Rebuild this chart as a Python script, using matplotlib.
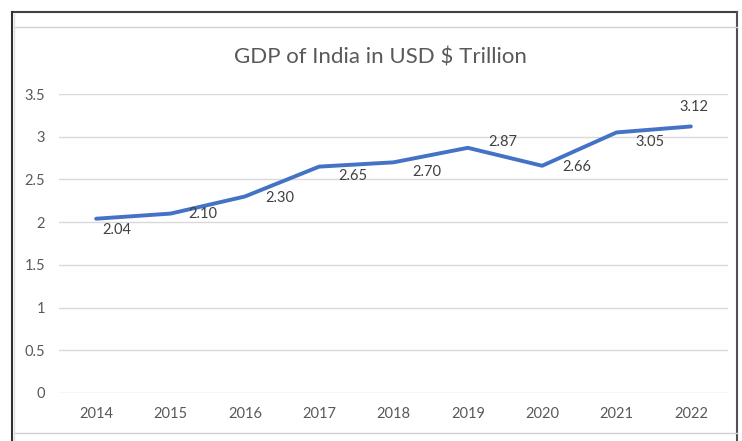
import matplotlib
matplotlib.use("Agg")
import matplotlib.pyplot as plt
from matplotlib.lines import Line2D

years = ["2014", "2015", "2016", "2017", "2018", "2019", "2020", "2021", "2022"]
gdp = [2.04, 2.10, 2.30, 2.65, 2.70, 2.87, 2.66, 3.05, 3.12]
labels = ["2.04", "2.10", "2.30", "2.65", "2.70", "2.87", "2.66", "3.05", "3.12"]
yticks = [0, 0.5, 1, 1.5, 2, 2.5, 3, 3.5]
ytick_labels = ["0", "0.5", "1", "1.5", "2", "2.5", "3", "3.5"]
title = "GDP of India in USD $ Trillion"

# label offsets in points (dx, dy) -- styling
offsets = [(15, -8), (23, 0), (25, -1), (24, -7), (24, -7), (25, 4), (25, -1), (24, -7), (2, 14)]

W, H = 742, 441
fig = plt.figure(figsize=(W / 100, H / 100), dpi=100)
fig.patch.set_facecolor("white")

font = ["Lato", "DejaVu Sans"]
grey = "#595959"

ax = fig.add_axes([59 / W, (H - 393) / H, (728 - 59) / W, (393 - 94) / H])
x = list(range(len(years)))
ax.plot(x, gdp, color="#4472C4", linewidth=2.8, solid_capstyle="round", solid_joinstyle="round", zorder=3)
ax.set_xlim(-0.5, len(years) - 0.5)
ax.set_ylim(0, 3.5)
ax.set_yticks(yticks)
ax.set_yticklabels(ytick_labels, fontfamily=font, fontsize=10.5, color=grey)
ax.set_xticks(x)
ax.set_xticklabels(years, fontfamily=font, fontsize=10.5, color=grey)
ax.tick_params(axis="both", length=0)
ax.tick_params(axis="y", pad=10)
ax.tick_params(axis="x", pad=10)
for s in ax.spines.values():
    s.set_visible(False)
ax.grid(axis="y", color="#D9D9D9", linewidth=1)
ax.set_axisbelow(True)

for xi, v, lab, (dx, dy) in zip(x, gdp, labels, offsets):
    ax.annotate(lab, (xi, v), xytext=(dx, dy), textcoords="offset points",
                ha="center", va="center", fontfamily=font, fontsize=10.5, color="#404040")

fig.text(380 / W, 1 - 57 / H, title, ha="center", va="center", fontfamily=font,
         fontsize=16, color=grey)

def px_line(x0, y0, x1, y1, color, lw):
    fig.add_artist(Line2D([x0 / W, x1 / W], [1 - y0 / H, 1 - y1 / H],
                          transform=fig.transFigure, color=color, linewidth=lw))

# frame decorations
px_line(12, 12, 737, 12, "#404040", 1.5)
px_line(12, 12, 12, 441, "#303030", 1.5)
px_line(737, 12, 737, 441, "#505050", 1.5)
px_line(14, 27, 737, 27, "#D0D0D0", 1)
px_line(14, 433, 737, 433, "#D0D0D0", 1)
px_line(14, 14, 14, 441, "#E0E0E0", 1)

fig.savefig("out.png", dpi=100, facecolor="white")
